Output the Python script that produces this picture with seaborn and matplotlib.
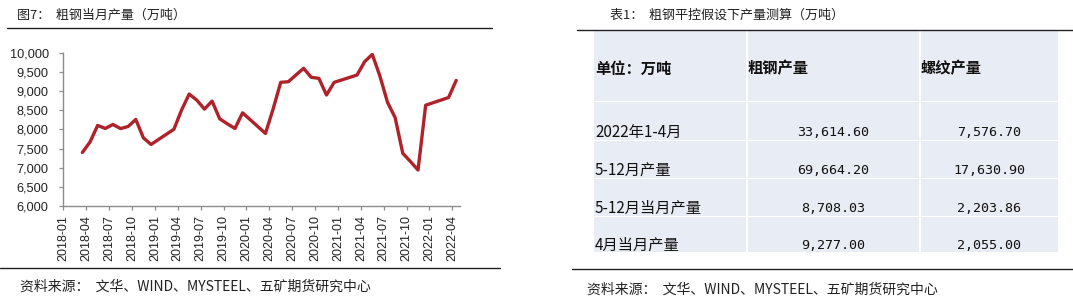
import numpy as np
import pandas as pd
import matplotlib
matplotlib.use("Agg")
import matplotlib.pyplot as plt
import seaborn as sns
from matplotlib.patches import Rectangle

# ---------------- data ----------------
months = [
    "2018-03", "2018-04", "2018-05", "2018-06", "2018-07", "2018-08", "2018-09", "2018-10", "2018-11", "2018-12",
    "2019-03", "2019-04", "2019-05", "2019-06", "2019-07", "2019-08", "2019-09", "2019-10", "2019-11", "2019-12",
    "2020-03", "2020-04", "2020-05", "2020-06", "2020-07", "2020-08", "2020-09", "2020-10", "2020-11", "2020-12",
    "2021-03", "2021-04", "2021-05", "2021-06", "2021-07", "2021-08", "2021-09", "2021-10", "2021-11", "2021-12",
    "2022-03", "2022-04",
]
crude_monthly = [
    7396, 7670, 8102, 8023, 8128, 8020, 8075, 8259, 7778, 7605,
    8003, 8503, 8920, 8763, 8528, 8737, 8275, 8144, 8023, 8431,
    7893, 8530, 9227, 9243, 9420, 9592, 9357, 9331, 8896, 9226,
    9417, 9765, 9957, 9391, 8705, 8304, 7375, 7161, 6939, 8630,
    8830, 9277,
]
x_tick_labels = [
    "2018-01", "2018-04", "2018-07", "2018-10", "2019-01", "2019-04", "2019-07", "2019-10",
    "2020-01", "2020-04", "2020-07", "2020-10", "2021-01", "2021-04", "2021-07", "2021-10",
    "2022-01", "2022-04",
]
y_ticks = [6000, 6500, 7000, 7500, 8000, 8500, 9000, 9500, 10000]

table_header = ["单位：万吨", "粗钢产量", "螺纹产量"]
table_rows = ["2022年1-4月", "5-12月产量", "5-12月当月产量", "4月当月产量"]
table_crude = [33614.60, 69664.20, 8708.03, 9277.00]
table_rebar = [7576.70, 17630.90, 2203.86, 2055.00]

left_title = "图7：  粗钢当月产量（万吨）"
right_title = "表1：  粗钢平控假设下产量测算（万吨）"
source_text = "资料来源：  文华、WIND、MYSTEEL、五矿期货研究中心"

# ---------------- style ----------------
sns.set_theme(style="white")
plt.rcParams["font.family"] = ["Noto Sans CJK SC", "DejaVu Sans"]

W, H = 1073, 307
fig = plt.figure(figsize=(W / 100, H / 100), dpi=100)
fig.patch.set_facecolor("white")

# overlay axes in pixel coordinates for decorations / table
ov = fig.add_axes([0, 0, 1, 1])
ov.set_xlim(0, W)
ov.set_ylim(H, 0)
ov.axis("off")
ov.patch.set_alpha(0)

def month_pos(s):
    y, m = s.split("-")
    return (int(y) - 2018) * 12 + (int(m) - 1)

df = pd.DataFrame({"month": months, "value": crude_monthly})
df["x"] = [month_pos(m) + 0.5 for m in df["month"]]

# ---------------- left chart ----------------
ax = fig.add_axes([63.3 / W, 1 - 206 / H, (460 - 63.3) / W, (206 - 52.7) / H])
sns.lineplot(data=df, x="x", y="value", ax=ax, color="#B0222A", linewidth=2.4, sort=False)
ax.set_xlim(0, 52)
ax.set_ylim(6000, 10000)
ax.set_xticks([month_pos(t) for t in x_tick_labels])
ax.set_xticklabels(x_tick_labels, rotation=90, family=["Liberation Sans", "DejaVu Sans"], fontsize=9, color="#222222")
ax.set_yticks(y_ticks)
ax.set_yticklabels([f"{v:,}" for v in y_ticks], family=["Liberation Sans", "DejaVu Sans"], fontsize=9.2, color="#222222")
ax.set_xlabel("")
ax.set_ylabel("")
for s in ["top", "right"]:
    ax.spines[s].set_visible(False)
for s in ["left", "bottom"]:
    ax.spines[s].set_color("#8C8C8C")
    ax.spines[s].set_linewidth(1.0)
ax.tick_params(axis="y", direction="out", length=3, width=0.9, color="#8C8C8C", pad=7.5, left=True)
ax.tick_params(axis="x", direction="out", length=3, width=0.9, color="#8C8C8C", pad=3.5, bottom=True)
ax.grid(False)

# titles and rules
ov.text(17, 15, left_title, fontsize=9.4, va="center", ha="left", color="#222222")
ov.plot([7, 492], [28, 28], color="#222222", lw=1.0)
ov.plot([0, 500], [268, 268], color="#222222", lw=1.0)
ov.text(20, 287, source_text, fontsize=10, va="center", ha="left", color="#222222")

ov.text(610, 15, right_title, fontsize=9.4, va="center", ha="left", color="#222222")
ov.plot([577, 1073], [30, 30], color="#222222", lw=1.0)
ov.plot([572, 1073], [269, 269], color="#222222", lw=1.0)
ov.text(587, 290, source_text, fontsize=10, va="center", ha="left", color="#222222")

# ---------------- table ----------------
cell_color = "#E8ECF4"
col_edges = [(594.3, 746.3), (748.0, 919.0), (920.8, 1057.7)]
row_edges = [(31.0, 100.5), (102.3, 139.6), (141.3, 177.6), (179.3, 215.6), (217.3, 251.7)]
for (y0, y1) in row_edges:
    for (x0, x1) in col_edges:
        ov.add_patch(Rectangle((x0, y0), x1 - x0, y1 - y0, facecolor=cell_color, edgecolor="none"))

hdr_x = [595, 747.5, 921]
for tx, t in zip(hdr_x, table_header):
    ov.text(tx, 68.5, t, fontsize=11, fontweight="bold", va="center", ha="left", color="#111111")

row_y = [132.5, 171, 208.3, 245.5]
num_family = ["DejaVu Sans Mono", "Noto Sans CJK SC"]
for ry, lab, c, r in zip(row_y, table_rows, table_crude, table_rebar):
    ov.text(595, ry, lab, fontsize=11, va="center", ha="left", color="#111111")
    ov.text(833.5, ry, f"{c:,.2f}", fontsize=9.6, va="center", ha="center", color="#111111", family=num_family)
    ov.text(989, ry, f"{r:,.2f}", fontsize=9.6, va="center", ha="center", color="#111111", family=num_family)

fig.savefig("out.png", dpi=100, facecolor="white")
